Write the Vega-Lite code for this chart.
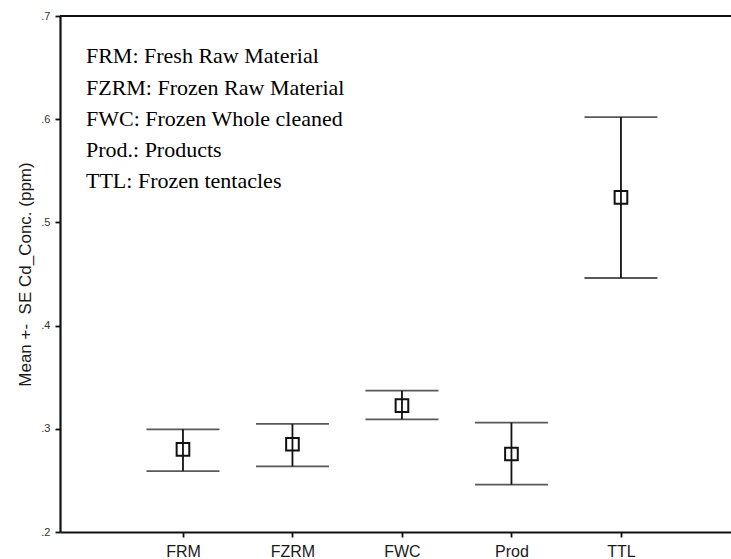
{
  "$schema": "https://vega.github.io/schema/vega-lite/v6.json",
  "autosize": "none",
  "width": 671,
  "height": 516,
  "padding": {"left": 60, "top": 16, "right": 0, "bottom": 27},
  "background": "white",
  "config": {
    "view": {"stroke": null},
    "axis": {"grid": false, "domainColor": "#111111", "tickColor": "#111111", "labelFont": "Liberation Sans", "titleFont": "Liberation Sans", "titleFontWeight": "normal"}
  },
  "datasets": {
    "stats": [
      {"pos": 1, "group": "FRM", "mean": 0.280, "lo": 0.259, "hi": 0.2995},
      {"pos": 2, "group": "FZRM", "mean": 0.285, "lo": 0.2636, "hi": 0.3047},
      {"pos": 3, "group": "FWC", "mean": 0.3224, "lo": 0.3092, "hi": 0.3369},
      {"pos": 4, "group": "Prod", "mean": 0.2756, "lo": 0.2459, "hi": 0.306},
      {"pos": 5, "group": "TTL", "mean": 0.5243, "lo": 0.4461, "hi": 0.6021}
    ],
    "notes": [
      {"note": "FRM: Fresh Raw Material", "ny": 0.654},
      {"note": "FZRM: Frozen Raw Material", "ny": 0.623},
      {"note": "FWC: Frozen Whole cleaned", "ny": 0.593},
      {"note": "Prod.: Products", "ny": 0.563},
      {"note": "TTL: Frozen tentacles", "ny": 0.533}
    ]
  },
  "layer": [
    {
      "data": {"name": "stats"},
      "mark": {"type": "rule", "color": "#111111", "strokeWidth": 1.8},
      "encoding": {
        "x": {
          "field": "pos", "type": "quantitative",
          "scale": {"domain": [-0.123, 6.005], "nice": false, "zero": false},
          "axis": {"title": null, "values": [1, 2, 3, 4, 5], "labelExpr": "['', 'FRM', 'FZRM', 'FWC', 'Prod', 'TTL'][datum.value]", "labelAngle": 0, "labelFontSize": 16, "labelColor": "#1a1a1a", "tickSize": 5, "tickWidth": 1.8, "domainWidth": 2.2, "labelPadding": 6.5, "labelFlush": false, "labelOverlap": false}
        },
        "y": {
          "field": "lo", "type": "quantitative",
          "scale": {"domain": [0.2, 0.7], "nice": false, "zero": false},
          "axis": {"title": "Mean +-\u00a0 SE Cd_Conc. (ppm)", "titleFontSize": 17, "titleColor": "#1a1a1a", "titlePadding": 6, "values": [0.2, 0.3, 0.4, 0.5, 0.6, 0.7], "labelExpr": "replace(format(datum.value, '.1f'), '0.', '.')", "labelFontSize": 11, "labelColor": "#333333", "tickSize": 5, "tickWidth": 1.8, "domainWidth": 2.2, "labelPadding": 5}
        },
        "y2": {"field": "hi"}
      }
    },
    {
      "data": {"name": "stats"},
      "mark": {"type": "tick", "orient": "horizontal", "color": "#111111", "size": 73, "thickness": 1.8},
      "encoding": {
        "x": {"field": "pos", "type": "quantitative"},
        "y": {"field": "hi", "type": "quantitative"}
      }
    },
    {
      "data": {"name": "stats"},
      "mark": {"type": "tick", "orient": "horizontal", "color": "#111111", "size": 73, "thickness": 1.8},
      "encoding": {
        "x": {"field": "pos", "type": "quantitative"},
        "y": {"field": "lo", "type": "quantitative"}
      }
    },
    {
      "data": {"name": "stats"},
      "mark": {"type": "point", "shape": "square", "filled": false, "size": 160, "stroke": "#111111", "strokeWidth": 2, "opacity": 1},
      "encoding": {
        "x": {"field": "pos", "type": "quantitative"},
        "y": {"field": "mean", "type": "quantitative"}
      }
    },
    {
      "data": {"name": "stats"},
      "mark": {"type": "rule", "color": "#111111", "strokeWidth": 2.2},
      "encoding": {"y": {"datum": 0.7}}
    },
    {
      "data": {"name": "notes"},
      "mark": {"type": "text", "align": "left", "baseline": "alphabetic", "font": "Liberation Serif", "fontSize": 22, "color": "#000000", "dx": -97},
      "encoding": {
        "x": {"datum": 1},
        "y": {"field": "ny", "type": "quantitative"},
        "text": {"field": "note"}
      }
    }
  ]
}
